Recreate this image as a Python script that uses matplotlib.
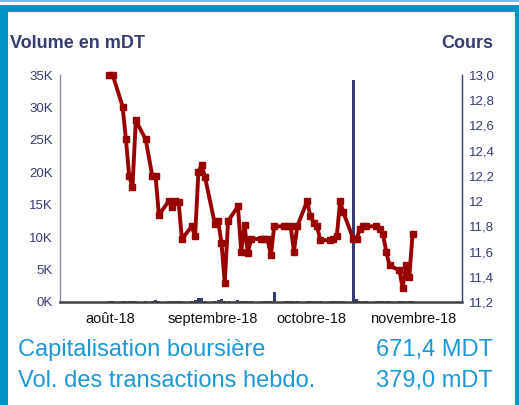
import numpy as np
import pandas as pd
import matplotlib
matplotlib.use('Agg')
import matplotlib.pyplot as plt
import matplotlib.transforms as mtransforms
from matplotlib.patches import Rectangle
from matplotlib.ticker import FuncFormatter, FixedLocator

plt.rcParams['font.family'] = ['Liberation Sans', 'DejaVu Sans']

# ---------------- data ----------------
dates = ["2018-08-02", "2018-08-03", "2018-08-06", "2018-08-07", "2018-08-08", "2018-08-09", "2018-08-10",
         "2018-08-13", "2018-08-15", "2018-08-16", "2018-08-17", "2018-08-20", "2018-08-21", "2018-08-22",
         "2018-08-23", "2018-08-24", "2018-08-27", "2018-08-28", "2018-08-29", "2018-08-30", "2018-08-31",
         "2018-09-03", "2018-09-04", "2018-09-05", "2018-09-06", "2018-09-07", "2018-09-10", "2018-09-11",
         "2018-09-12", "2018-09-13", "2018-09-14", "2018-09-17", "2018-09-18", "2018-09-19", "2018-09-20",
         "2018-09-21", "2018-09-24", "2018-09-25", "2018-09-26", "2018-09-27", "2018-09-28", "2018-10-01",
         "2018-10-02", "2018-10-03", "2018-10-04", "2018-10-05", "2018-10-08", "2018-10-09", "2018-10-10",
         "2018-10-11", "2018-10-12", "2018-10-15", "2018-10-16", "2018-10-17", "2018-10-18", "2018-10-19",
         "2018-10-22", "2018-10-23", "2018-10-24", "2018-10-25", "2018-10-26", "2018-10-29", "2018-10-30",
         "2018-10-31", "2018-11-01", "2018-11-02"]

cours = [13.00, 13.00, 12.75, 12.49, 12.20, 12.11, 12.64,
         12.49, 12.20, 12.20, 11.89, 12.00, 11.95, 12.00,
         11.99, 11.70, 11.80, 11.72, 12.23, 12.29, 12.19,
         11.82, 11.84, 11.67, 11.35, 11.84, 11.96, 11.60,
         11.81, 11.59, 11.70, 11.70, 11.70, 11.70, 11.57,
         11.80, 11.80, 11.80, 11.80, 11.60, 11.80, 12.00,
         11.88, 11.83, 11.80, 11.69, 11.69, 11.70, 11.72,
         12.00, 11.91, 11.70, 11.70, 11.78, 11.80, 11.80,
         11.80, 11.78, 11.74, 11.60, 11.49, 11.45, 11.31,
         11.49, 11.40, 11.74]

# volume in mDT
volume = [150, 120, 180, 150, 200, 150, 120,
          150, 100, 250, 150, 120, 200, 150,
          180, 120, 150, 250, 600, 650, 200,
          150, 250, 450, 150, 120, 250, 150,
          150, 120, 150, 150, 120, 150, 150,
          1550, 150, 120, 150, 120, 150, 150,
          120, 150, 120, 150, 150, 120, 150,
          150, 120, 34200, 400, 150, 120, 150,
          150, 120, 150, 120, 150, 150, 120,
          150, 120, 150]

month_ticks = ["2018-08-01", "2018-09-01", "2018-10-01", "2018-11-01"]
month_labels = ["août-18", "septembre-18", "octobre-18", "novembre-18"]

vol_ticks = [0, 5000, 10000, 15000, 20000, 25000, 30000, 35000]
cours_ticks = [11.2, 11.4, 11.6, 11.8, 12.0, 12.2, 12.4, 12.6, 12.8, 13.0]
cours_labels = ["11,2", "11,4", "11,6", "11,8", "12", "12,2", "12,4", "12,6", "12,8", "13,0"]

x = pd.to_datetime(dates)
navy = "#353c72"
red = "#990000"
blue = "#0094c6"

# ---------------- figure ----------------
fig = plt.figure(figsize=(5.19, 4.05), dpi=100)
fig.patch.set_facecolor("white")

ax = fig.add_axes([60 / 519, 1 - 302 / 405, 402 / 519, 227 / 405])
ax.bar(x, volume, width=0.9, color=navy, zorder=2)
ax.set_ylim(0, 35000)
ax.set_xlim(pd.Timestamp("2018-07-18"), pd.Timestamp("2018-11-17"))
ax.yaxis.set_major_locator(FixedLocator(vol_ticks))
ax.yaxis.set_major_formatter(FuncFormatter(lambda v, p: "%dK" % (v / 1000)))
ax.set_xticks(pd.to_datetime(month_ticks))
ax.set_xticklabels(month_labels)
ax.tick_params(axis="x", length=0, pad=7, labelsize=10.5, labelcolor="#111111")
ax.tick_params(axis="y", length=0, pad=5, labelsize=9.5, labelcolor=navy)
# month labels sit a little right of the 1st of the month
shift = mtransforms.ScaledTranslation(4 / 100, 0, fig.dpi_scale_trans)
for lab in ax.get_xticklabels():
    lab.set_transform(lab.get_transform() + shift)
ax.spines["top"].set_visible(False)
ax.spines["right"].set_visible(False)
ax.spines["left"].set_color("#8c8cac")
ax.spines["left"].set_linewidth(1.0)
ax.spines["bottom"].set_color("#404040")
ax.spines["bottom"].set_linewidth(1.8)
ax.spines["bottom"].set_zorder(5)

ax2 = ax.twinx()
ax2.plot(x, cours, color=red, lw=2.8, marker="s", ms=4.5, clip_on=False, zorder=3)
ax2.set_ylim(11.2, 13.0)
ax2.yaxis.set_major_locator(FixedLocator(cours_ticks))
ax2.set_yticklabels(cours_labels)
ax2.tick_params(axis="y", length=0, pad=5, labelsize=9.5, labelcolor=navy)
for s in ["top", "left", "bottom"]:
    ax2.spines[s].set_visible(False)
ax2.spines["right"].set_color(navy)
ax2.spines["right"].set_linewidth(1.0)

# titles
fig.text(10 / 519, 1 - 48.5 / 405, "Volume en mDT", fontsize=13, fontweight="bold",
         color=navy, ha="left", va="baseline")
fig.text(493 / 519, 1 - 48.5 / 405, "Cours", fontsize=13, fontweight="bold",
         color=navy, ha="right", va="baseline")

# summary lines
txt_blue = "#1b98d8"
fig.text(18 / 519, 1 - 356 / 405, "Capitalisation boursière", fontsize=17, color=txt_blue,
         ha="left", va="baseline")
fig.text(493 / 519, 1 - 356 / 405, "671,4 MDT", fontsize=17, color=txt_blue,
         ha="right", va="baseline")
fig.text(18 / 519, 1 - 387 / 405, "Vol. des transactions hebdo.", fontsize=17, color=txt_blue,
         ha="left", va="baseline")
fig.text(493 / 519, 1 - 387 / 405, "379,0 mDT", fontsize=17, color=txt_blue,
         ha="right", va="baseline")

# panel frame
W, H = 519, 405
def band(x0, y0, w, h, c):
    fig.add_artist(Rectangle((x0 / W, 1 - (y0 + h) / H), w / W, h / H,
                             transform=fig.transFigure, color=c, lw=0, zorder=10))

band(0, 0, W, 1.5, "#6cc3e4")
band(0, 5, W, 7, blue)
band(0, 5, 8, H - 5, blue)
band(515, 5, 4, H - 5, blue)

fig.savefig("out.png", dpi=100, facecolor="white")
